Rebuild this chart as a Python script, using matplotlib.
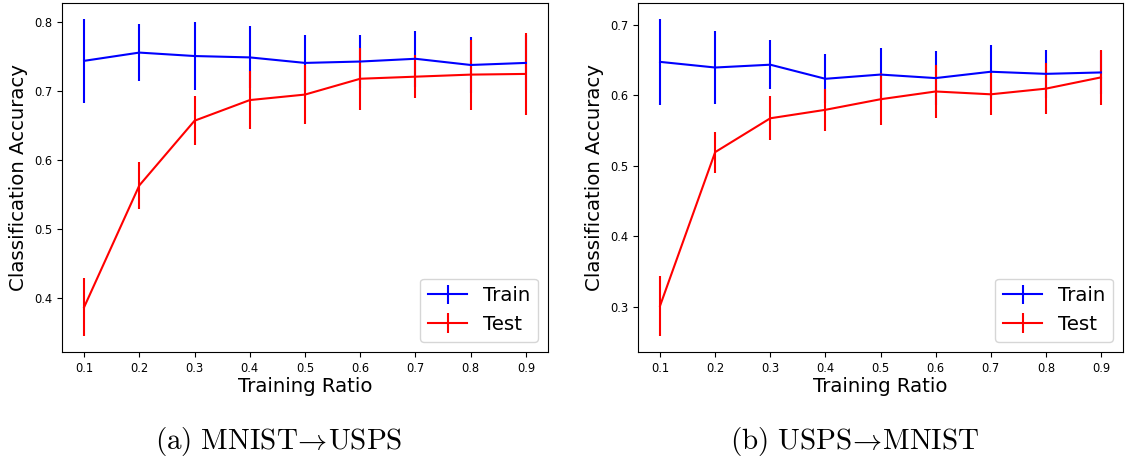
import matplotlib
matplotlib.use("Agg")
import matplotlib.pyplot as plt

plt.rcParams["mathtext.fontset"] = "cm"

ratios = [0.1, 0.2, 0.3, 0.4, 0.5, 0.6, 0.7, 0.8, 0.9]

# (a) MNIST -> USPS
a_train = [0.744, 0.756, 0.751, 0.749, 0.741, 0.743, 0.747, 0.738, 0.741]
a_train_err = [0.061, 0.041, 0.050, 0.045, 0.041, 0.039, 0.041, 0.040, 0.040]
a_test = [0.386, 0.563, 0.657, 0.687, 0.695, 0.718, 0.721, 0.724, 0.725]
a_test_err = [0.042, 0.034, 0.036, 0.042, 0.043, 0.045, 0.031, 0.051, 0.059]

# (b) USPS -> MNIST
b_train = [0.647, 0.639, 0.643, 0.623, 0.629, 0.624, 0.633, 0.630, 0.632]
b_train_err = [0.061, 0.052, 0.035, 0.035, 0.038, 0.038, 0.038, 0.034, 0.030]
b_test = [0.301, 0.519, 0.567, 0.579, 0.594, 0.605, 0.601, 0.609, 0.625]
b_test_err = [0.043, 0.029, 0.031, 0.030, 0.037, 0.037, 0.030, 0.036, 0.039]

captions = [r"$\mathrm{(a)\ MNIST}\!\rightarrow\!\mathrm{USPS}$",
            r"$\mathrm{(b)\ USPS}\!\rightarrow\!\mathrm{MNIST}$"]

W, H = 1131, 461
fig = plt.figure(figsize=(W / 100, H / 100), dpi=100)
ax1 = fig.add_axes([62 / W, 1 - 352 / H, 486 / W, 349 / H])
ax2 = fig.add_axes([638 / W, 1 - 352 / H, 485 / W, 349 / H])

panels = [(ax1, a_train, a_train_err, a_test, a_test_err),
          (ax2, b_train, b_train_err, b_test, b_test_err)]

for ax, tr, tr_e, te, te_e in panels:
    ax.errorbar(ratios, tr, yerr=tr_e, color="blue", lw=1.5, elinewidth=1.5, label="Train")
    ax.errorbar(ratios, te, yerr=te_e, color="red", lw=1.5, elinewidth=1.5, label="Test")
    ax.set_xticks(ratios)
    ax.tick_params(labelsize=8.3)
    ax.set_xlabel("Training Ratio", fontsize=14.2, labelpad=2)
    ax.set_ylabel("Classification Accuracy", fontsize=14.2)
    ax.legend(loc="lower right", fontsize=14.2)

fig.text(279 / W, 1 - 441 / H, captions[0], fontsize=21, ha="center", va="center")
fig.text(855 / W, 1 - 441 / H, captions[1], fontsize=21, ha="center", va="center")

fig.savefig("out.png", dpi=100)
